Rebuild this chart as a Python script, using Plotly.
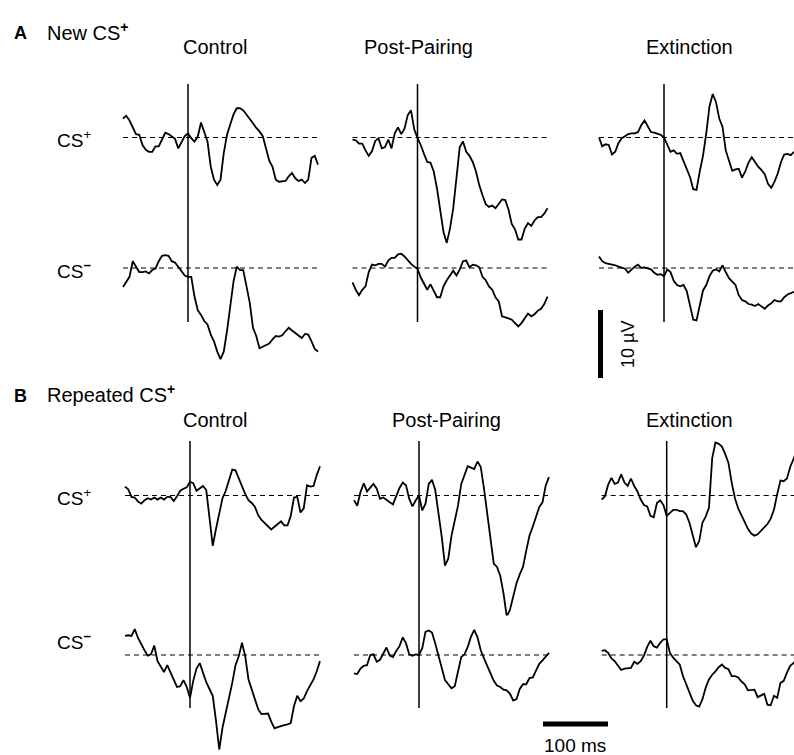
import plotly.graph_objects as go

W, H = 794, 755

# ---------------- data (µV, sampled every 5 ms from -100 to 200 ms) ----------------
time_ms = list(range(-100, 201, 5))

A_csp_control = [2.8, 3.2, 2.5, 1.4, 0.5, 0.4, -1.1, -1.8, -2.1, -2.1, -1.3, -1.3, -0.3, 0.7, 0.5, 0.1, -0.2, -1.6, -0.7, 0.2, 0.6,
                 -0.1, -0.6, 0.1, 2.2, 0.9, -0.6, -4.3, -6.2, -7.0, -6.2, -2.3, 0.4, 1.9, 3.4, 4.3, 4.3, 4.0, 3.4, 2.8, 2.1,
                 1.4, 0.9, 0.2, -1.6, -3.4, -4.3, -6.2, -6.5, -6.5, -6.4, -5.7, -5.2, -6.0, -6.4, -6.2, -6.7, -6.2, -3.0, -2.7, -4.0]
A_csm_control = [-2.8, -2.1, -1.3, 1.0, 0.2, -0.6, -0.6, -0.5, -0.8, -0.3, -0.1, 1.0, 1.8, 1.9, 1.8, 1.0, 0.8, 0.2, -0.5, -1.1, -1.3,
                 -1.3, -4.2, -6.2, -6.9, -7.8, -8.3, -9.8, -10.8, -12.3, -13.4, -12.3, -9.3, -5.4, -2.0, 0.2, -0.3, -0.3, -2.5, -5.1, -8.8,
                 -10.0, -11.8, -11.6, -11.3, -11.1, -10.5, -10.0, -10.1, -9.9, -9.3, -8.8, -9.2, -9.6, -10.0, -10.3, -9.7, -9.8, -10.8, -11.9, -12.3]
A_csp_post = [-0.3, -0.4, -0.9, -0.9, -1.9, -2.7, -2.0, -0.5, -0.1, -1.6, -1.4, -0.3, -1.6, 0.6, 1.5, 0.5, 1.3, 3.3, 4.0, 1.2, -0.1,
              -1.1, -2.4, -3.6, -3.7, -5.0, -7.5, -10.4, -13.9, -15.5, -13.4, -10.4, -6.0, -1.4, -0.6, -2.1, -2.7, -3.6, -5.0, -7.0, -8.5,
              -9.8, -10.2, -10.0, -10.4, -9.8, -9.1, -9.2, -10.6, -12.7, -13.5, -15.0, -15.0, -13.4, -12.6, -13.0, -12.2, -11.7, -11.7, -11.2, -10.4]
A_csm_post = [-2.1, -3.2, -4.0, -3.2, -2.7, -0.6, 0.5, 0.4, 0.6, 0.6, 0.2, 1.1, 1.5, 1.5, 2.0, 2.1, 1.7, 1.1, 0.6, 0.2, -0.1,
              -1.4, -2.4, -3.2, -2.4, -3.4, -4.3, -4.3, -2.7, -1.8, -1.1, -0.4, -1.1, -0.2, 1.0, 1.1, 0.1, 0.5, 0.4, 0.1, -1.3,
              -1.8, -2.7, -3.2, -4.3, -4.9, -7.1, -7.2, -7.4, -7.6, -8.1, -8.6, -8.1, -7.3, -6.7, -7.1, -6.8, -6.3, -6.0, -5.3, -4.2]
A_csp_ext = [0.0, -1.3, -1.0, -1.1, -2.5, -2.1, -0.8, -0.1, 0.2, 0.5, 0.6, 0.6, 0.8, 1.8, 2.5, 1.7, 0.8, 0.7, 0.5, 0.4, 0.0,
             -1.1, -2.1, -1.9, -2.4, -2.3, -3.4, -4.7, -5.8, -7.6, -7.7, -5.0, -2.7, 0.6, 4.6, 6.4, 5.2, 2.8, 1.6, -1.9, -3.3,
             -4.9, -4.7, -4.6, -5.9, -5.0, -3.7, -2.9, -3.6, -4.3, -4.8, -5.4, -6.8, -7.4, -6.5, -5.3, -3.6, -2.5, -2.4, -2.6, -2.1]
A_csm_ext = [1.7, 1.0, 0.7, 0.6, 0.6, 0.4, 0.2, 0.1, -0.1, -0.7, -0.2, 0.2, 0.5, 0.0, 0.1, 0.0, -0.2, -0.7, -1.0, -0.9, -1.2,
             -0.2, -0.6, -1.9, -2.5, -2.7, -2.5, -3.4, -5.6, -7.6, -7.7, -5.3, -3.3, -2.5, -1.2, -0.4, -0.2, -0.5, 0.4, -0.6, -1.5,
             -2.0, -2.5, -4.0, -4.7, -4.9, -5.3, -5.4, -5.6, -5.3, -5.7, -6.0, -5.5, -5.2, -4.7, -4.9, -4.9, -4.3, -3.9, -3.7, -3.5]
B_csp_control = [1.3, 0.9, -0.2, -0.3, -0.9, -1.2, -0.7, -0.4, -0.6, -0.3, -0.6, -0.3, -0.6, -0.2, -0.2, -0.8, -0.1, 0.7, 1.0, 1.2, 2.0,
                 1.8, 0.7, 1.0, 1.4, 0.8, -2.9, -7.4, -4.9, -2.4, -0.4, 0.7, 2.4, 3.8, 3.7, 2.5, 1.3, 0.2, -0.7, -1.1, -1.7,
                 -2.9, -3.6, -4.1, -4.6, -5.0, -4.6, -4.2, -3.8, -4.4, -4.4, -3.0, -0.3, -0.2, -2.5, -1.9, 1.5, 1.3, 1.4, 3.0, 4.3]
B_csm_control = [2.8, 2.9, 2.8, 3.8, 2.5, 1.5, 0.7, -0.1, 0.1, 1.4, -0.9, -1.7, -2.5, -1.5, -2.6, -3.7, -4.7, -4.6, -3.7, -4.7, -6.3,
                 -3.8, -2.0, -1.2, -2.7, -4.0, -5.0, -6.0, -9.7, -13.9, -10.7, -8.5, -6.5, -4.1, -1.5, -0.2, 1.8, -0.2, -3.6, -5.0, -6.5,
                 -8.0, -8.7, -8.7, -8.6, -9.8, -10.8, -10.6, -10.4, -10.3, -10.2, -10.0, -7.5, -6.0, -6.8, -6.4, -5.3, -4.5, -3.6, -2.4, -0.9]
B_csp_post = [-0.7, -1.5, 0.5, 1.8, 0.6, 1.2, 1.7, 1.0, -0.5, -0.3, -0.7, -1.0, -1.3, -0.1, 1.1, 1.9, 1.5, -0.5, -1.6, -0.7, 0.0,
              -2.2, -1.2, 1.7, 2.3, 0.8, -2.5, -6.1, -10.3, -9.3, -5.9, -3.9, -1.5, 1.7, 2.9, 4.3, 4.1, 3.9, 5.0, 4.2, 1.0,
              -2.9, -6.6, -10.0, -10.5, -11.8, -14.4, -17.8, -16.8, -14.7, -12.9, -11.6, -10.5, -8.1, -5.9, -4.6, -3.2, -1.7, -1.0, 1.5, 2.7]
B_csm_post = [-2.7, -2.8, -2.0, -1.6, -1.5, 0.0, 0.1, -1.0, -0.7, 0.3, 1.1, -0.1, -0.3, 0.6, 1.3, 2.6, 1.7, 0.1, -0.1, 0.1, 0.0,
              1.0, 3.4, 3.6, 3.3, 1.7, -0.2, -1.7, -3.7, -4.3, -4.9, -4.6, -2.2, -0.3, 0.1, 1.2, 2.7, 3.7, 2.6, 0.7, -0.5,
              -1.7, -2.7, -3.8, -4.5, -4.7, -5.1, -5.2, -5.7, -6.7, -6.5, -5.0, -4.3, -4.3, -3.4, -3.3, -2.3, -1.3, -0.8, -0.2, 0.3]
B_csp_ext = [-0.6, -0.1, 1.6, 2.6, 1.7, 1.9, 3.1, 1.9, 1.4, 2.5, 1.4, 0.6, -0.6, -1.4, -1.6, -3.0, -3.2, -1.1, -0.7, -1.4, -3.0,
             -2.5, -2.1, -2.1, -2.3, -2.3, -2.8, -4.0, -5.7, -7.6, -6.7, -4.0, -3.1, -1.8, 5.5, 7.8, 7.6, 7.2, 6.1, 4.8, 1.9,
             -0.4, -1.9, -2.9, -3.8, -4.9, -5.6, -5.9, -5.7, -5.2, -4.7, -4.2, -3.4, -2.1, 0.2, 2.2, 2.1, 2.5, 4.2, 5.4, 6.5]
B_csm_ext = [0.6, 0.7, 0.3, -0.5, -0.9, -1.5, -2.2, -2.0, -1.9, -1.9, -1.0, -1.3, -0.9, -0.1, 1.2, 2.1, 1.3, 1.1, 1.8, 2.3, 2.3,
             0.3, -0.4, -0.9, -1.4, -3.1, -4.4, -5.7, -6.7, -7.4, -7.6, -6.5, -4.8, -3.6, -2.9, -2.4, -1.8, -1.4, -1.9, -2.1, -3.1,
             -3.1, -3.3, -3.9, -4.3, -5.2, -5.2, -5.1, -6.2, -6.0, -5.7, -7.3, -7.4, -6.0, -6.3, -4.1, -3.8, -2.6, -1.6, -1.2, -0.5]

conditions = ["Control", "Post-Pairing", "Extinction"]
panel_titles = {"A": "New CS<sup><b>+</b></sup>", "B": "Repeated CS<sup><b>+</b></sup>"}
row_labels = ["CS<sup>+</sup>", "CS<sup><b>−</b></sup>"]
series = {
    "A": [[A_csp_control, A_csp_post, A_csp_ext], [A_csm_control, A_csm_post, A_csm_ext]],
    "B": [[B_csp_control, B_csp_post, B_csp_ext], [B_csm_control, B_csm_post, B_csm_ext]],
}
SCALE_UV = 10
SCALE_MS = 100

# ---------------- geometry (pixels) ----------------
PX_PER_MS = 0.65
PX_PER_UV = 6.8
col_x0 = {"A": [188, 417.5, 664], "B": [190, 419, 666.7]}      # stimulus onset x
row_base = {"A": [137.5, 268], "B": [495.5, 655]}              # baseline y
vline_span = {"A": (84, 322), "B": (441, 708)}
title_y = {"A": 46.5, "B": 420}
title_x = {"A": [215, 418, 689], "B": [215, 446, 689]}
label_y = {"A": [139, 270], "B": [497, 641]}
header_y = {"A": 33, "B": 396}

FONT = "Liberation Sans, Arial, Helvetica, sans-serif"


def px2x(p):
    return p / W


def px2y(p):
    return 1 - p / H


fig = go.Figure()
layout = {}
shapes = []
annotations = []
ax = 0

for panel in ["A", "B"]:
    for r in range(2):
        for c in range(3):
            ax += 1
            x0 = col_x0[panel][c]
            base = row_base[panel][r]
            left = x0 - 65 - 4
            right = min(x0 + 130 + 4, W)
            top = max(base - 100, 0)
            bottom = min(base + 120, H)
            xa = "xaxis" if ax == 1 else f"xaxis{ax}"
            ya = "yaxis" if ax == 1 else f"yaxis{ax}"
            xr = "x" if ax == 1 else f"x{ax}"
            yr = "y" if ax == 1 else f"y{ax}"
            layout[xa] = dict(domain=[px2x(left), px2x(right)],
                              range=[(left - x0) / PX_PER_MS, (right - x0) / PX_PER_MS],
                              visible=False, anchor=yr, fixedrange=True)
            layout[ya] = dict(domain=[px2y(bottom), px2y(top)],
                              range=[(base - bottom) / PX_PER_UV, (base - top) / PX_PER_UV],
                              visible=False, anchor=xr, fixedrange=True)
            # dashed baseline
            fig.add_trace(go.Scatter(x=[time_ms[0], time_ms[-1]], y=[0, 0], mode="lines",
                                     line=dict(color="black", width=1, dash="5px,4px"),
                                     xaxis=xr, yaxis=yr, hoverinfo="skip", showlegend=False))
            # ERP waveform
            fig.add_trace(go.Scatter(x=time_ms, y=series[panel][r][c], mode="lines",
                                     line=dict(color="black", width=1.8),
                                     xaxis=xr, yaxis=yr, showlegend=False))
            if r == 0:
                y_top, y_bot = vline_span[panel]
                shapes.append(dict(type="line", xref=xr, yref="paper", x0=0, x1=0,
                                   y0=px2y(y_bot), y1=px2y(y_top),
                                   line=dict(color="black", width=1.5)))
                annotations.append(dict(text=conditions[c], x=px2x(title_x[panel][c]), y=px2y(title_y[panel]),
                                        xref="paper", yref="paper", xanchor="center", yanchor="middle",
                                        showarrow=False, font=dict(family=FONT, size=20, color="black")))
            if c == 0:
                annotations.append(dict(text=row_labels[r], x=px2x(55), y=px2y(label_y[panel][r]),
                                        xref="paper", yref="paper", xanchor="left", yanchor="middle",
                                        showarrow=False, font=dict(family=FONT, size=19, color="black")))
    annotations.append(dict(text=f"<b>{panel}</b>", x=px2x(12), y=px2y(header_y[panel]),
                            xref="paper", yref="paper", xanchor="left", yanchor="middle",
                            showarrow=False, font=dict(family=FONT, size=18, color="black")))
    annotations.append(dict(text=panel_titles[panel], x=px2x(45), y=px2y(header_y[panel] - 2),
                            xref="paper", yref="paper", xanchor="left", yanchor="middle",
                            showarrow=False, font=dict(family=FONT, size=20, color="black")))

# ---------------- scale bars ----------------
# vertical 10 µV bar
ax += 1
layout[f"xaxis{ax}"] = dict(domain=[px2x(595), px2x(615)], range=[-1, 1], visible=False, anchor=f"y{ax}")
layout[f"yaxis{ax}"] = dict(domain=[px2y(390), px2y(300)],
                            range=[(378 - 390) / PX_PER_UV, (378 - 300) / PX_PER_UV], visible=False, anchor=f"x{ax}")
fig.add_trace(go.Scatter(x=[-0.45, -0.45], y=[0, SCALE_UV], mode="lines", line=dict(color="black", width=5),
                         xaxis=f"x{ax}", yaxis=f"y{ax}", showlegend=False, hoverinfo="skip"))
# horizontal 100 ms bar
ax += 1
layout[f"xaxis{ax}"] = dict(domain=[px2x(530), px2x(630)],
                            range=[(530 - 543) / PX_PER_MS, (630 - 543) / PX_PER_MS], visible=False, anchor=f"y{ax}")
layout[f"yaxis{ax}"] = dict(domain=[px2y(735), px2y(715)], range=[-1, 1], visible=False, anchor=f"x{ax}")
fig.add_trace(go.Scatter(x=[0, SCALE_MS], y=[0.1, 0.1], mode="lines", line=dict(color="black", width=5),
                         xaxis=f"x{ax}", yaxis=f"y{ax}", showlegend=False, hoverinfo="skip"))

annotations.append(dict(text=f"{SCALE_UV} µV", x=px2x(628), y=px2y(345), xref="paper", yref="paper",
                        xanchor="center", yanchor="middle", textangle=-90, showarrow=False,
                        font=dict(family=FONT, size=18, color="black")))
annotations.append(dict(text=f"{SCALE_MS} ms", x=px2x(575), y=px2y(745), xref="paper", yref="paper",
                        xanchor="center", yanchor="middle", showarrow=False,
                        font=dict(family=FONT, size=19, color="black")))

fig.update_layout(width=W, height=H, margin=dict(l=0, r=0, t=0, b=0),
                  paper_bgcolor="white", plot_bgcolor="rgba(0,0,0,0)",
                  showlegend=False, shapes=shapes, annotations=annotations, **layout)

fig.write_html("out.html", config={"displayModeBar": False})
